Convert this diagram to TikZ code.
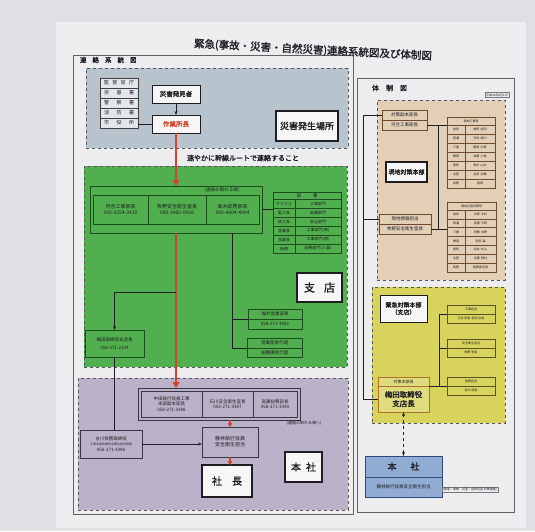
\documentclass[tikz,border=0pt]{standalone}
\usepackage{fontspec}
\newfontfamily\jp{Noto Sans CJK JP}
\newfontfamily\jpb{Noto Sans CJK JP}[FakeBold=1.5]
\usetikzlibrary{arrows.meta}
\definecolor{bgC}{HTML}{E0E0E4}
\definecolor{paperC}{HTML}{EDEDF0}
\definecolor{grayC}{HTML}{B7C3CD}
\definecolor{grnC}{HTML}{52AF4F}
\definecolor{grnD}{HTML}{1D4D1D}
\definecolor{purC}{HTML}{BAB2C8}
\definecolor{purD}{HTML}{3A3545}
\definecolor{beiC}{HTML}{E2CFB6}
\definecolor{beiD}{HTML}{6B4A2E}
\definecolor{yelC}{HTML}{D8D35C}
\definecolor{yelD}{HTML}{5A5220}
\definecolor{oraD}{HTML}{B0702E}
\definecolor{bluC}{HTML}{90ACD2}
\definecolor{bluD}{HTML}{2A4A80}
\definecolor{redC}{HTML}{D2452C}
\definecolor{inkC}{HTML}{1E1E22}
\newcommand\mybox[7]{\node[#1,minimum width={((#5)-(#3))*1pt},minimum height={((#6)-(#4))*1pt}] (#2) at ({((#3)+(#5))/2},{((#4)+(#6))/2}) {#7};}
\begin{document}
\begin{tikzpicture}[x=1pt,y=-1pt,
 base/.style={inner sep=0pt,outer sep=0pt,align=center,text=inkC,font=\jp},
 f3/.style={font=\jp\fontsize{3}{3.6}\selectfont},
 f4/.style={font=\jp\fontsize{4}{4.8}\selectfont},
 f45/.style={font=\jp\fontsize{4.5}{5.4}\selectfont},
 f5/.style={font=\jp\fontsize{5}{6}\selectfont},
 fb5/.style={font=\jpb\fontsize{5}{6}\selectfont},
 fb6/.style={font=\jpb\fontsize{6}{7.2}\selectfont},
 fb65/.style={font=\jpb\fontsize{6.5}{7.8}\selectfont},
 fb7/.style={font=\jpb\fontsize{7}{8.4}\selectfont},
 fb75/.style={font=\jpb\fontsize{7.5}{9}\selectfont},
 fb9/.style={font=\jpb\fontsize{9}{10.8}\selectfont},
 fb10/.style={font=\jpb\fontsize{10}{12}\selectfont},
 fb105/.style={font=\jpb\fontsize{10.5}{12.6}\selectfont},
 fb11/.style={font=\jpb\fontsize{11}{13}\selectfont},
 zone/.style={base,draw=inkC!75,dashed,line width=0.7pt},
 frameline/.style={draw=inkC!70,line width=0.7pt},
 wbox/.style={base,draw=inkC,fill=white!93!gray,line width=0.9pt},
 wbig/.style={base,draw=inkC,fill=white!93!gray,line width=1.3pt},
 tcell/.style={base,draw=inkC!85,fill=grayC!40!white,line width=0.5pt},
 gbox/.style={base,draw=grnD,fill=grnC,line width=0.8pt},
 gcell/.style={base,draw=grnD,fill=grnC,line width=0.5pt},
 pbox/.style={base,draw=purD,fill=purC,line width=0.8pt},
 bbox/.style={base,draw=beiD,fill=beiC,line width=0.7pt},
 bcell/.style={base,draw=beiD,fill=beiC,line width=0.45pt},
 ybox/.style={base,draw=yelD,fill=yelC,line width=0.7pt},
 obox/.style={base,draw=oraD,fill=yelC!80!white,line width=0.9pt},
 blbox/.style={base,draw=bluD,fill=bluC,line width=0.9pt},
 conn/.style={draw=inkC,line width=0.7pt},
 arr/.style={conn,-{Stealth[length=4pt,width=3pt]}},
 dblarr/.style={conn,dashed,{Stealth[length=4pt,width=3pt]}-{Stealth[length=4pt,width=3pt]}},
 redarr/.style={draw=redC,line width=1.8pt,-{Triangle[length=6pt,width=7pt]}},
]
\useasboundingbox (0,0) rectangle (535,531);
\fill[bgC] (0,0) rectangle (535,531);
\fill[paperC] (56,22) rectangle (526,528);
\draw[frameline] (73,55) rectangle (353,514);
\draw[frameline] (357,78) rectangle (514,512);

% title and panel labels
\node[base,fb105,rotate=-3] (title) at (313,50) {緊急(事故・災害・自然災害)連絡系統図及び体制図};
\node[base,fb65,anchor=west] (lblL) at (80,60) {連\hspace{6pt}絡\hspace{6pt}系\hspace{6pt}統\hspace{6pt}図};
\node[base,fb7,anchor=west] (lblR) at (372,88) {体\hspace{7pt}制\hspace{7pt}図};
\node[base,f3,draw=inkC!60,line width=0.3pt,inner sep=1pt] (date) at (497,95) {平成28年4月1日};

% zones
\mybox{zone,fill=grayC}{zGray}{86}{68}{348}{148}{}
\mybox{zone,fill=grnC}{zGreen}{84}{166}{347}{367}{}
\mybox{zone,fill=purC}{zPur}{78}{378}{348}{510}{}
\mybox{zone,fill=beiC}{zBei}{377}{100}{505}{280}{}
\mybox{zone,fill=yelC}{zYel}{372}{287}{505}{423}{}

% ---- gray zone
\foreach \i/\t in {1/{監\hfill 督\hfill 官\hfill 庁},2/{労\hfill 基\hfill 署},3/{警\hfill 察\hfill 署},4/{消\hfill 防\hfill 署},5/{市\hfill 役\hfill 所}}
  {\mybox{tcell,f5}{kt\i}{100}{68+\i*10}{138}{78+\i*10}{\makebox[30pt][s]{\t}}}
\mybox{wbox,fb65}{hakken}{152}{85}{200}{103}{災害発見者}
\mybox{wbox,fb65}{shocho}{152}{115}{200}{133}{\textcolor{redC}{作業所長}}
\mybox{wbig,fb9}{basho}{276}{111}{338}{141}{災害発生場所}
\draw[arr] (hakken) -- (shocho);
\draw[conn] (shocho.west) -- (shocho.west -| kt5.east);

\node[base,fb7] (sumi) at (243,158) {速やかに幹線ルートで連絡すること};

% ---- green zone
\mybox{gbox}{ggrp}{90}{186}{262}{233}{}
\node[base,f45] (gord) at (222,190.5) {(連絡の取れる順)};
\mybox{gcell,f5}{g1}{93}{195}{148}{224}{河合工事部長\\090-3254-3419}
\mybox{gcell,f5}{g2}{148}{195}{206}{224}{牧野安全衛生室長\\090-3460-0968}
\mybox{gcell,f5}{g3}{206}{195}{259}{224}{高木総務部長\\090-4804-4904}
\mybox{gbox}{gtab}{273}{192}{341}{253}{}
\mybox{gcell,f45}{gth}{273}{192}{341}{199}{部\hspace{12pt}署}
\foreach \i/\a/\b in {1/ヤマスエ/工事部門,2/監工長/総務部門,3/統工長/安全部門,4/営業長/工事部門(東),5/営業長/工事部門(西),6/総務/総務部門(人事)}
  {\mybox{gcell,f4}{gta\i}{273}{190+\i*9}{295}{199+\i*9}{\a}
   \mybox{gcell,f4}{gtb\i}{295}{190+\i*9}{341}{199+\i*9}{\b}}
\draw[conn] (ggrp.east) -- (ggrp.east -| gtab.west);
\mybox{wbig,fb11}{shiten}{297}{273}{342}{302}{支\hspace{9pt}店}
\mybox{gbox,f45}{fukuiH}{248}{309}{302}{319}{福井営業部長}
\mybox{gbox,f45}{fukuiB}{248}{319}{302}{329}{058-271-3092}
\mybox{gbox,f45}{somuH}{247}{338}{302}{348}{営業部長代理}
\mybox{gbox,f45}{somuB}{247}{348}{302}{357}{総務課長代理}
\coordinate (gdrop) at (232,233);
\draw[conn] (gdrop) |- (fukuiH.south west);
\draw[conn] (gdrop) |- (somuH.south west);
\mybox{gbox,f45}{umeda}{85}{330}{144}{357}{梅田取締役支店長\\[2pt]058-271-2154}

% ---- purple zone
\mybox{pbox}{pgrp}{138}{388}{300}{420}{}
\mybox{pbox,f45}{p1}{141}{391}{202}{417}{中田執行役員工事\\本部副本部長\\058-271-3398}
\mybox{pbox,f45}{p2}{202}{391}{253}{417}{石川安全衛生室長\\058-271-3397}
\mybox{pbox,f45}{p3}{253}{391}{297}{417}{高藤総務部長\\058-271-3399}
\node[base,f4] (pord) at (304,423.5) {(連絡の取れる順へ)};
\mybox{pbox,f45}{furu}{80}{430}{142}{458}{古川常務取締役\\{\fontsize{3}{3.6}\selectfont 工事本部長兼安全衛生担当役員}\\058-271-3396}
\mybox{pbox,f5}{fuji}{202}{427}{258}{457}{藤林執行役員\\安全衛生担当}
\mybox{wbig,fb10}{shacho}{202}{465}{252}{497}{社\hspace{10pt}長}
\mybox{wbig,fb10}{honsha}{285}{452}{322}{482}{本\hspace{5pt}社}

% ---- connectors left panel
\draw[redarr] (shocho.south) -- (shocho.south |- ggrp.north);
\draw[redarr] (shocho.south |- ggrp.south) -- (shocho.south |- pgrp.north);
\coordinate (br) at (176,292);
\draw[arr] (br) -| (umeda.north);
\draw[conn] (umeda.south) -- (umeda.south |- furu.north);
\draw[arr] (furu.east) -- (furu.east -| fuji.west);
\draw[redarr,line width=1.4pt,-{Triangle[length=4pt,width=5pt]}] (fuji.north |- pgrp.south) -- (fuji.north);
\draw[redarr,line width=1.4pt,-{Triangle[length=4pt,width=5pt]}] (fuji.south) -- (fuji.south |- shacho.north);

% ---- beige zone
\mybox{bbox,f45}{tfH}{382}{110}{427}{120}{対策副本部長}
\mybox{bbox,f45}{tfB}{382}{120}{427}{130}{河合工事部長}
\mybox{wbig,fb6}{genchi}{386}{162}{427}{182}{現地対策本部}
\mybox{bbox,f45}{gjH}{379}{214}{431}{224}{現地情報担当}
\mybox{bbox,f45}{gjB}{379}{224}{431}{234}{牧野安全衛生室長}
\mybox{bbox}{tab1}{447}{117}{495}{188}{}
\mybox{bcell,f3}{tab1h}{447}{117}{495}{125}{現地工事班}
\foreach \i/\a/\b in {1/岐阜/林田\ \ 前田,2/西濃/河村\ \ 細川,3/三重/服部\ \ 中島,4/静岡/加藤\ \ 小林,5/愛知/青木\ \ 山本,6/北陸/吉田\ \ 村瀬,7/総務/富田}
  {\mybox{bcell,f3}{t1a\i}{447}{116+\i*9}{465}{125+\i*9}{\a}
   \mybox{bcell,f3}{t1b\i}{465}{116+\i*9}{495}{125+\i*9}{\b}}
\mybox{bbox}{tab2}{447}{202}{496}{272}{}
\mybox{bcell,f3}{tab2h}{447}{202}{496}{210}{現地災害対策班}
\foreach \i/\a/\b in {1/岐阜/大野\ \ 木村,2/西濃/安藤\ \ 平野,3/三重/伊藤\ \ 水野,4/静岡/石田\ \ 森,5/愛知/松井\ \ 杉山,6/北陸/近藤\ \ 野村,7/総務/総務部全員}
  {\mybox{bcell,f3}{t2a\i}{447}{201.1+\i*8.86}{465}{210+\i*8.86}{\a}
   \mybox{bcell,f3}{t2b\i}{465}{201.1+\i*8.86}{496}{210+\i*8.86}{\b}}
\coordinate (vx) at (438,0);
\draw[conn] (tfB.east) -- (tfB.east -| tab1.west);
\draw[conn] (gjB.east) -- (gjB.east -| tab2.west);
\draw[conn] (tfB.east -| vx) -- (gjB.east -| vx);

% ---- yellow zone
\mybox{wbox,fb6}{kinkyu}{380}{295}{427}{322}{緊急対策本部\\（支店）}
\mybox{obox,f4}{ubH}{378}{377}{429}{386}{対策本部長}
\mybox{obox,fb75}{ubB}{378}{386}{429}{412}{梅田取締役\\支店長}
\mybox{ybox,f3}{k1H}{447}{305}{495}{314}{工事担当}
\mybox{ybox,f3}{k1B}{447}{314}{495}{323}{河合\ 部長\ \ 前田\ 次長}
\mybox{ybox,f3}{k2H}{447}{339}{495}{348}{安全衛生担当}
\mybox{ybox,f3}{k2B}{447}{348}{495}{357}{牧野\ 室長}
\mybox{ybox,f3}{k3H}{447}{377}{495}{386}{総務担当}
\mybox{ybox,f3}{k3B}{447}{386}{495}{395}{高木\ 部長}
\coordinate (tx) at (439,0);
\draw[conn] (ubB.north east) -- (k3B.north west);
\draw[conn] (k1B.north west) -- (k1B.north west -| tx) -- (tx |- k3B.north west);
\draw[conn] (k2B.north west) -- (k2B.north west -| tx);

% long line on the left of the right panel
\coordinate (lvx) at (363,0);
\draw[conn] (tfH.west) -- (tfH.west -| lvx) -- (lvx |- ubB.west) -- (ubB.west);
\draw[conn] (gjH.west) -- (gjH.west -| lvx);

% ---- head office box
\mybox{blbox,fb9}{hsH}{365}{456}{442}{477}{本\hspace{14pt}社}
\mybox{blbox,f45}{hsB}{365}{477}{442}{497}{藤林執行役員安全衛生担当}
\draw[dblarr] (ubB.south) -- (ubB.south |- hsH.north);
\node[base,f3,draw=inkC!60,line width=0.3pt,inner sep=1pt] (note) at (470,490) {(緊急・事故・災害・自然災害 対策連絡)};
\end{tikzpicture}
\end{document}
